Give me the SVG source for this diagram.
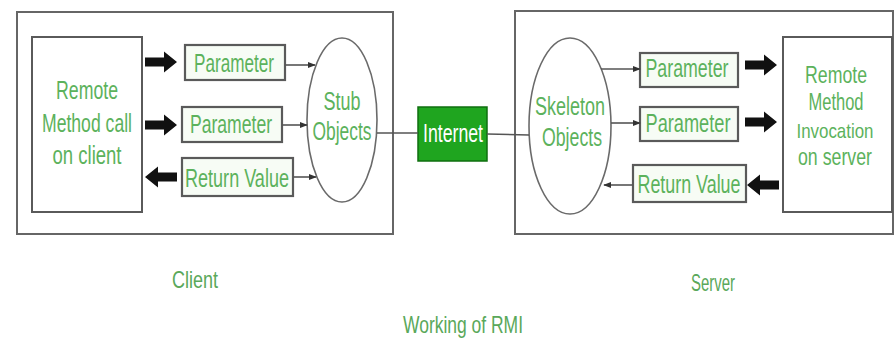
<svg xmlns="http://www.w3.org/2000/svg" width="895" height="347" viewBox="0 0 895 347">
  <style>
    .frame { fill: #ffffff; stroke: #666666; stroke-width: 2; }
    .box { fill: #ffffff; stroke: #5a5a5a; stroke-width: 2; }
    .pbox { fill: #f7fcf5; stroke: #5a5a5a; stroke-width: 2.2; }
    .oval { fill: #ffffff; stroke: #6a6a6a; stroke-width: 1.6; }
    .net { fill: #1fa51f; stroke: #0f6f0f; stroke-width: 1.5; }
    .txt { font-family: "Liberation Sans", Arial, sans-serif; font-size: 26px; fill: #5cb25c; text-anchor: middle; }
    .sm { font-size: 23px; }
    .xs { font-size: 21px; }
    .cap { font-family: "Liberation Sans", Arial, sans-serif; font-size: 24px; fill: #5aa85a; text-anchor: middle; }
    .white { fill: #ffffff; }
    .thin { stroke: #555555; stroke-width: 1.6; fill: none; }
    .block { fill: #111111; }
  </style>
  <defs>
    <marker id="tip" viewBox="0 0 10 10" refX="9" refY="5" markerWidth="5" markerHeight="5" orient="auto">
      <path d="M0,1 L10,5 L0,9 Z" fill="#333333"/>
    </marker>
    <path id="fat" d="M0,-4.5 H19 V-10.5 L32,0 L19,10.5 V4.5 H0 Z"/>
  </defs>

  <!-- client and server frames -->
  <g id="client-frame">
    <rect class="frame" x="17" y="12" width="376" height="222"/>
  </g>
  <g id="server-frame">
    <rect class="frame" x="515" y="11" width="378" height="223"/>
  </g>

  <!-- client side -->
  <g id="client-call">
    <rect class="box" x="32" y="37" width="110" height="175"/>
    <text class="txt" x="87" y="99" textLength="62" lengthAdjust="spacingAndGlyphs">Remote</text>
    <text class="txt" x="87" y="132" textLength="90" lengthAdjust="spacingAndGlyphs">Method call</text>
    <text class="txt" x="87" y="164" textLength="69" lengthAdjust="spacingAndGlyphs">on client</text>
  </g>
  <g id="client-param-1">
    <rect class="pbox" x="185" y="45" width="100" height="35"/>
    <text class="txt" x="234" y="72" textLength="80" lengthAdjust="spacingAndGlyphs">Parameter</text>
  </g>
  <g id="client-param-2">
    <rect class="pbox" x="182" y="107" width="100" height="35"/>
    <text class="txt" x="231" y="133" textLength="82" lengthAdjust="spacingAndGlyphs">Parameter</text>
  </g>
  <g id="client-return">
    <rect class="pbox" x="182" y="158" width="111" height="38"/>
    <text class="txt" x="237" y="187" textLength="104" lengthAdjust="spacingAndGlyphs">Return Value</text>
  </g>
  <g id="stub">
    <ellipse class="oval" cx="342" cy="120" rx="35" ry="82"/>
    <text class="txt" x="342" y="110" textLength="37" lengthAdjust="spacingAndGlyphs">Stub</text>
    <text class="txt" x="342" y="140" textLength="59" lengthAdjust="spacingAndGlyphs">Objects</text>
  </g>

  <!-- network -->
  <g id="internet">
    <rect class="net" x="418" y="107" width="69" height="54"/>
    <text class="txt white" x="453" y="142" textLength="60" lengthAdjust="spacingAndGlyphs">Internet</text>
  </g>

  <!-- server side -->
  <g id="skeleton">
    <ellipse class="oval" cx="570" cy="126" rx="41" ry="88"/>
    <text class="txt" x="570" y="115" textLength="70" lengthAdjust="spacingAndGlyphs">Skeleton</text>
    <text class="txt" x="572" y="146" textLength="60" lengthAdjust="spacingAndGlyphs">Objects</text>
  </g>
  <g id="server-param-1">
    <rect class="pbox" x="640" y="53" width="98" height="34"/>
    <text class="txt" x="687" y="77" textLength="83" lengthAdjust="spacingAndGlyphs">Parameter</text>
  </g>
  <g id="server-param-2">
    <rect class="pbox" x="640" y="107" width="98" height="34"/>
    <text class="txt" x="688" y="132" textLength="85" lengthAdjust="spacingAndGlyphs">Parameter</text>
  </g>
  <g id="server-return">
    <rect class="pbox" x="633" y="165" width="113" height="37"/>
    <text class="txt" x="689" y="193" textLength="103" lengthAdjust="spacingAndGlyphs">Return Value</text>
  </g>
  <g id="server-invocation">
    <rect class="box" x="783" y="37" width="109" height="175"/>
    <text class="txt sm" x="836" y="83" textLength="62" lengthAdjust="spacingAndGlyphs">Remote</text>
    <text class="txt sm" x="836" y="110" textLength="55" lengthAdjust="spacingAndGlyphs">Method</text>
    <text class="txt xs" x="835" y="138" textLength="77" lengthAdjust="spacingAndGlyphs">Invocation</text>
    <text class="txt sm" x="835" y="165" textLength="74" lengthAdjust="spacingAndGlyphs">on server</text>
  </g>

  <!-- captions -->
  <g id="captions">
    <text class="cap" x="195" y="288" textLength="46" lengthAdjust="spacingAndGlyphs">Client</text>
    <text class="cap" x="713" y="291" textLength="44" lengthAdjust="spacingAndGlyphs">Server</text>
    <text class="cap" x="463" y="333" textLength="120" lengthAdjust="spacingAndGlyphs">Working of RMI</text>
  </g>

  <!-- connectors -->
  <g id="connectors">
    <use href="#fat" class="block" transform="translate(145,62)"/>
    <use href="#fat" class="block" transform="translate(145,125)"/>
    <use href="#fat" class="block" transform="translate(177,177) scale(-1,1)"/>
    <use href="#fat" class="block" transform="translate(745,65)"/>
    <use href="#fat" class="block" transform="translate(745,122)"/>
    <use href="#fat" class="block" transform="translate(779,185) scale(-1,1)"/>

    <line class="thin" x1="285" y1="65" x2="315" y2="65" marker-end="url(#tip)"/>
    <line class="thin" x1="282" y1="125" x2="307" y2="125" marker-end="url(#tip)"/>
    <line class="thin" x1="293" y1="177" x2="316" y2="177" marker-end="url(#tip)"/>

    <line class="thin" x1="377" y1="133" x2="418" y2="133" stroke-width="2.4"/>
    <line class="thin" x1="487" y1="134" x2="529" y2="135" stroke-width="2"/>

    <line class="thin" x1="601" y1="69" x2="640" y2="69" marker-end="url(#tip)"/>
    <line class="thin" x1="611" y1="123" x2="640" y2="123" marker-end="url(#tip)"/>
    <line class="thin" x1="633" y1="185" x2="604" y2="185" marker-end="url(#tip)"/>
  </g>
</svg>
